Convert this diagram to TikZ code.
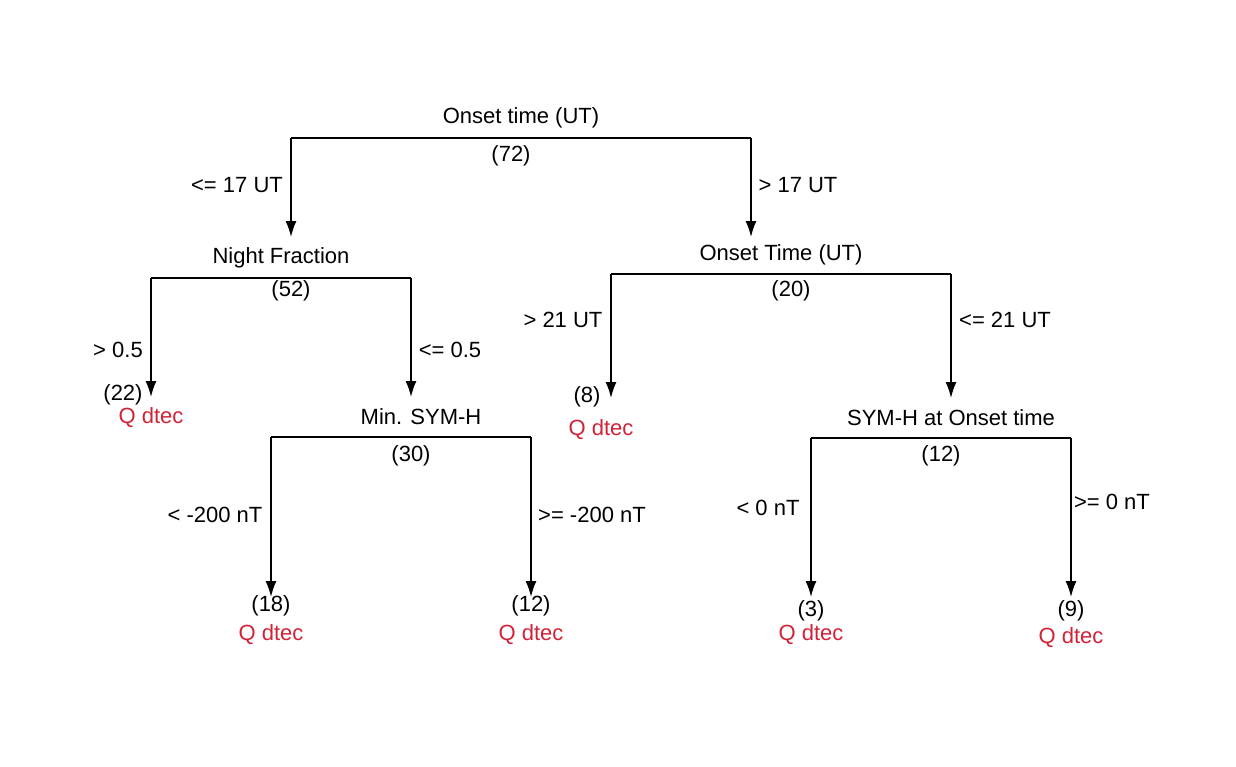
\documentclass[tikz,border=0pt]{standalone}
\usepackage{fontspec}
\setmainfont{Liberation Sans}
\usetikzlibrary{arrows.meta}
\definecolor{leafred}{RGB}{209,35,55}
\tikzset{
  lbl/.style={inner sep=0pt,font=\fontsize{22}{24}\selectfont},
  leaf/.style={lbl,text=leafred},
  branch/.style={line width=1.6pt,-{Latex[length=16pt,width=11pt]}},
  bar/.style={line width=1.6pt}
}
\begin{document}
\begin{tikzpicture}[x=1pt,y=-1pt]
  \useasboundingbox (0,0) rectangle (1236,766);
  % Root
  \node[lbl] (root) at (521,118) {Onset time (UT)};
  \coordinate (rootL) at (291,138);
  \coordinate (rootR) at (751,138);
  \draw[bar] (rootL) -- (rootR);
  \node[lbl] (rootN) at (511,156) {(72)};
  \coordinate (nfTop) at (291,237);
  \coordinate (otTop) at (751,237);
  \draw[branch] (rootL) -- (nfTop);
  \draw[branch] (rootR) -- (otTop);
  \node[lbl] at (237,185) {<= 17 UT};
  \node[lbl] at (798,185) {> 17 UT};

  % Night Fraction
  \node[lbl] (nf) at (281,258) {Night Fraction};
  \coordinate (nfL) at (151,278);
  \coordinate (nfR) at (411,278);
  \draw[bar] (nfL) -- (nfR);
  \node[lbl] (nfN) at (291,291) {(52)};
  \coordinate (leafA) at (151,397);
  \coordinate (msTop) at (411,397);
  \draw[branch] (nfL) -- (leafA);
  \draw[branch] (nfR) -- (msTop);
  \node[lbl] at (118,350) {> 0.5};
  \node[lbl] at (450,350) {<= 0.5};
  \node[lbl] (leafAN) at (123,395) {(22)};
  \node[leaf] (leafAQ) at (151,418) {Q dtec};

  % Min. SYM-H
  \node[lbl] (ms) at (421,417) {Min. SYM-H};
  \coordinate (msL) at (271,437);
  \coordinate (msR) at (531,437);
  \draw[bar] (msL) -- (msR);
  \node[lbl] (msN) at (411,456) {(30)};
  \coordinate (leafB) at (271,597);
  \coordinate (leafC) at (531,597);
  \draw[branch] (msL) -- (leafB);
  \draw[branch] (msR) -- (leafC);
  \node[lbl] at (215,515) {< -200 nT};
  \node[lbl] at (592,515) {>= -200 nT};
  \node[lbl] (leafBN) at (271,606) {(18)};
  \node[leaf] (leafBQ) at (271,635) {Q dtec};
  \node[lbl] (leafCN) at (531,606) {(12)};
  \node[leaf] (leafCQ) at (531,635) {Q dtec};

  % Onset Time (UT)
  \node[lbl] (ot) at (781,255) {Onset Time (UT)};
  \coordinate (otL) at (611,274);
  \coordinate (otR) at (951,274);
  \draw[bar] (otL) -- (otR);
  \node[lbl] (otN) at (791,291) {(20)};
  \coordinate (leafD) at (611,398);
  \coordinate (shTop) at (951,398);
  \draw[branch] (otL) -- (leafD);
  \draw[branch] (otR) -- (shTop);
  \node[lbl] at (563,320) {> 21 UT};
  \node[lbl] at (1005,320) {<= 21 UT};
  \node[lbl] (leafDN) at (587,397) {(8)};
  \node[leaf] (leafDQ) at (601,430) {Q dtec};

  % SYM-H at Onset time
  \node[lbl] (sh) at (951,418) {SYM-H at Onset time};
  \coordinate (shL) at (811,438);
  \coordinate (shR) at (1071,438);
  \draw[bar] (shL) -- (shR);
  \node[lbl] (shN) at (941,456) {(12)};
  \coordinate (leafE) at (811,597);
  \coordinate (leafF) at (1071,597);
  \draw[branch] (shL) -- (leafE);
  \draw[branch] (shR) -- (leafF);
  \node[lbl] at (768,508) {< 0 nT};
  \node[lbl] at (1112,502) {>= 0 nT};
  \node[lbl] (leafEN) at (811,611) {(3)};
  \node[leaf] (leafEQ) at (811,635) {Q dtec};
  \node[lbl] (leafFN) at (1071,611) {(9)};
  \node[leaf] (leafFQ) at (1071,638) {Q dtec};
\end{tikzpicture}
\end{document}
